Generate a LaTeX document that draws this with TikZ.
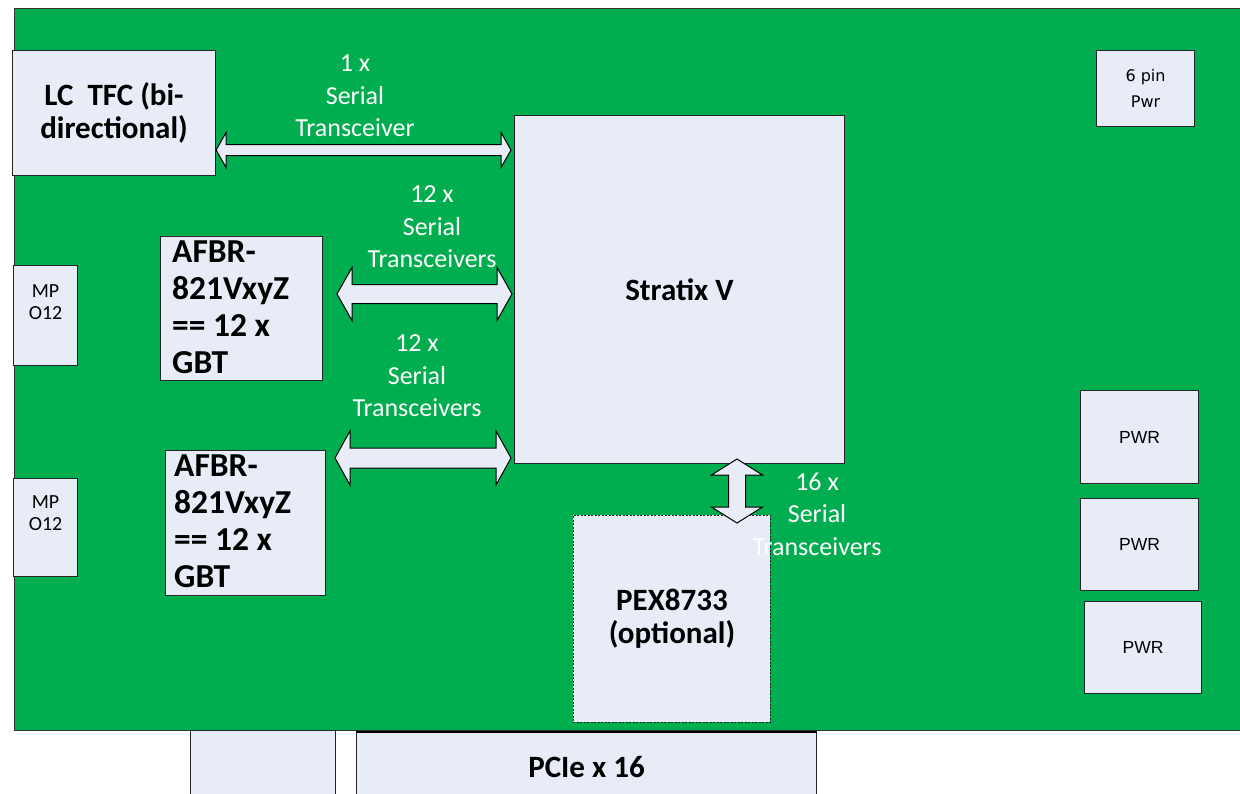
\documentclass[tikz,border=0pt]{standalone}
\usepackage{fontspec}
\setmainfont{Carlito}
\newfontfamily\dejavu{DejaVu Sans}
\newfontfamily\arialf{Liberation Sans}
\usetikzlibrary{calc}
\definecolor{board}{HTML}{00AD4F}
\definecolor{boxfill}{HTML}{E7ECF6}
\newcommand\dblarr[5]{%
  \path ($(#1)!#5!(#2)$) coordinate (da1) ($(#2)!#5!(#1)$) coordinate (da2);
  \draw[arrowshape] (#1) -- ($(da1)!#4!90:(#2)$) -- ($(da1)!#3!90:(#2)$)
    -- ($(da2)!#3!-90:(#1)$) -- ($(da2)!#4!-90:(#1)$) -- (#2)
    -- ($(da2)!#4!90:(#1)$) -- ($(da2)!#3!90:(#1)$)
    -- ($(da1)!#3!-90:(#2)$) -- ($(da1)!#4!-90:(#2)$) -- cycle;}
\begin{document}
\begin{tikzpicture}[x=1pt,y=-1pt,
  box/.style={draw=black!85, fill=boxfill, line width=1.1pt, inner sep=0pt, anchor=north west},
  boldtxt/.style={font=\fontsize{31}{33}\selectfont\bfseries, align=center},
  afbrtxt/.style={font=\fontsize{33.5}{37}\selectfont\bfseries, align=left, inner sep=0pt, anchor=north west},
  wlabel/.style={font=\fontsize{26}{32.5}\selectfont, text=white, align=center},
  smalltxt/.style={font=\fontsize{20}{22}\selectfont, align=center, inner sep=0pt, anchor=north},
  pwrtxt/.style={font=\arialf\fontsize{17.5}{21}\selectfont, align=center},
  arrowshape/.style={draw=black, fill=boxfill, line width=1pt, line join=miter}]
\useasboundingbox (0,0) rectangle (1240,793);
\fill[white] (0,0) rectangle (1240,793);
% board
\draw[fill=board, draw=black!80, line width=1pt] (14,8) rectangle (1250,730);
% boxes
\node[box, minimum width=203pt, minimum height=125pt, boldtxt] (lc) at (12,50) {LC\ \ TFC (bi-\\directional)};
\node[box, minimum width=330pt, minimum height=348pt, boldtxt] (strat) at (514,115) {Stratix V};
\node[box, minimum width=162pt, minimum height=144pt] (afbr1) at (160,236) {};
\node[box, minimum width=160pt, minimum height=145pt] (afbr2) at (165,450) {};
\node[afbrtxt] (afbr1t) at ([xshift=12pt,yshift=-5pt]afbr1.north west) {AFBR-\\821VxyZ\\== 12 x\\GBT};
\node[afbrtxt] (afbr2t) at ([xshift=9pt,yshift=-5pt]afbr2.north west) {AFBR-\\821VxyZ\\== 12 x\\GBT};
\node[box, minimum width=64pt, minimum height=100pt] (mpo1) at (13,265) {};
\node[box, minimum width=64pt, minimum height=98pt] (mpo2) at (13,478) {};
\node[smalltxt] (mpo1t) at ([yshift=-19pt]mpo1.north) {MP\\O12};
\node[smalltxt] (mpo2t) at ([yshift=-17pt]mpo2.north) {MP\\O12};
\node[box, minimum width=98pt, minimum height=76pt, font=\dejavu\fontsize{16}{26}\selectfont, align=center] (sixpin) at (1096,50) {6 pin\\Pwr};
\node[box, minimum width=118pt, minimum height=93pt, pwrtxt] (pwr1) at (1080,390) {PWR};
\node[box, minimum width=118pt, minimum height=92pt, pwrtxt] (pwr2) at (1080,498) {PWR};
\node[box, minimum width=117pt, minimum height=92pt, pwrtxt] (pwr3) at (1084,601) {PWR};
\node[box, minimum width=197pt, minimum height=207pt, boldtxt, dash pattern=on 2pt off 1.5pt, line width=0.9pt] (pex) at (573,515) {PEX8733\\(optional)};
\node[box, minimum width=145pt, minimum height=80pt] (blank) at (190,730) {};
\node[box, minimum width=460pt, minimum height=68pt, boldtxt] (pcie) at (356,732) {PCIe x 16};
\draw[line width=2pt] (pcie.north west) -- (pcie.north east);
% arrows
\coordinate (a1l) at (lc.east |- 0,150);
\coordinate (a1r) at ([xshift=-3pt]strat.west |- 0,150);
\coordinate (a2l) at (337,294);
\coordinate (a2r) at ([xshift=-2pt]strat.west |- 0,294);
\coordinate (a3l) at (335,458);
\coordinate (a3r) at ([xshift=-3pt]strat.west |- 0,458);
\coordinate (a4t) at (737,459);
\coordinate (a4b) at (737,523);
\dblarr{a1l}{a1r}{5.5pt}{17.5pt}{10pt}
\dblarr{a2l}{a2r}{9.5pt}{26.5pt}{15pt}
\dblarr{a3l}{a3r}{10pt}{27pt}{15pt}
\dblarr{a4t}{a4b}{8.5pt}{25.5pt}{16pt}
% labels
\node[wlabel] (l1) at (355,96) {1 x\\Serial\\Transceiver};
\node[wlabel] (l2) at (432,227) {12 x\\Serial\\Transceivers};
\node[wlabel] (l3) at (417,376) {12 x\\Serial\\Transceivers};
\node[wlabel] (l4) at (817,514) {16 x\\Serial\\Transceivers};
\end{tikzpicture}
\end{document}
